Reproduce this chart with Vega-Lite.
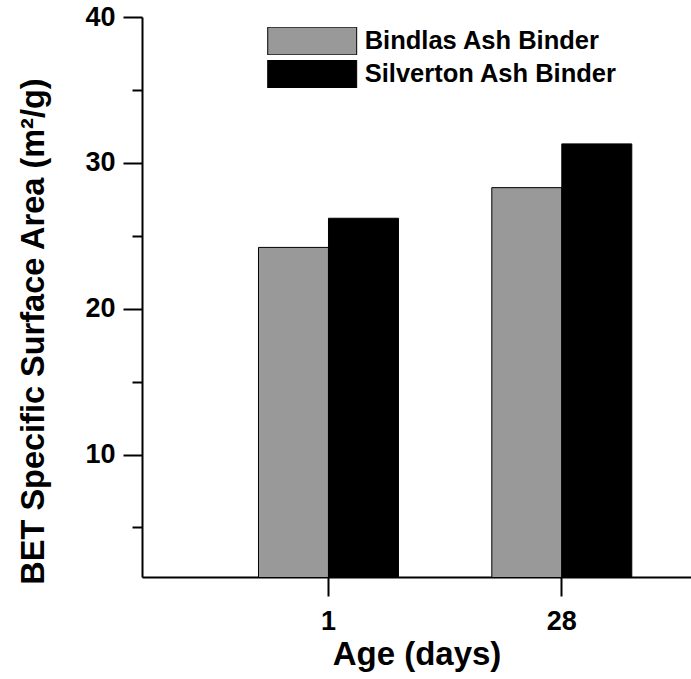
{
  "$schema": "https://vega.github.io/schema/vega-lite/v6.json",
  "autosize": "none",
  "padding": {"left": 142, "top": 17, "right": 0, "bottom": 102},
  "width": 549,
  "height": 560,
  "background": "white",
  "config": {
    "view": {"stroke": null},
    "font": "Liberation Sans",
    "axis": {"grid": false, "domainColor": "black", "domainWidth": 2, "tickColor": "black", "tickWidth": 2, "labelColor": "black", "titleColor": "black", "labelFont": "Liberation Sans", "titleFont": "Liberation Sans", "labelFontWeight": "bold", "titleFontWeight": "bold", "labelFontSize": 27, "titleFontSize": 33}
  },
  "data": {
    "values": [
      {"age": "1", "binder": "Bindlas Ash Binder", "bet": 24.2},
      {"age": "1", "binder": "Silverton Ash Binder", "bet": 26.2},
      {"age": "28", "binder": "Bindlas Ash Binder", "bet": 28.3},
      {"age": "28", "binder": "Silverton Ash Binder", "bet": 31.3}
    ]
  },
  "mark": {"type": "bar", "stroke": "black", "strokeWidth": 1, "clip": true},
  "encoding": {
    "x": {
      "field": "age", "type": "nominal", "sort": ["1", "28"],
      "scale": {"paddingInner": 0.4, "paddingOuter": 0.3765, "align": 0.663},
      "axis": {"title": "Age (days)", "labelAngle": 0, "tickSize": 19, "labelPadding": 12, "titlePadding": 4}
    },
    "xOffset": {"field": "binder", "type": "nominal", "sort": ["Bindlas Ash Binder", "Silverton Ash Binder"], "scale": {"paddingInner": 0, "paddingOuter": 0}},
    "y": {
      "field": "bet", "type": "quantitative",
      "scale": {"domain": [1.6, 40], "nice": false, "zero": false},
      "axis": {
        "title": "BET Specific Surface Area (m²/g)",
        "titleFontSize": 32.5,
        "values": [5, 10, 15, 20, 25, 30, 35, 40],
        "labelExpr": "datum.value % 10 === 0 ? datum.label : ''",
        "tickSize": {"condition": {"test": "datum.value % 10 === 0", "value": 19}, "value": 10},
        "labelPadding": 8,
        "titleX": -92,
        "titleY": 314
      }
    },
    "color": {
      "field": "binder", "type": "nominal",
      "sort": ["Bindlas Ash Binder", "Silverton Ash Binder"],
      "scale": {"range": ["#999999", "#000000"]},
      "legend": {
        "title": null,
        "orient": "none",
        "legendX": 125,
        "legendY": 10,
        "symbolType": "M-1.6,-0.5H1.6V0.5H-1.6Z",
        "symbolSize": 3091,
        "symbolStrokeColor": "black",
        "symbolStrokeWidth": 1,
        "symbolOpacity": 1,
        "clipHeight": 28,
        "symbolOffset": 16.7,
        "labelOffset": 24,
        "rowPadding": 5,
        "labelFont": "Liberation Sans",
        "labelFontWeight": "bold",
        "labelFontSize": 25.5,
        "labelColor": "black",
        "labelLimit": 400
      }
    }
  }
}
